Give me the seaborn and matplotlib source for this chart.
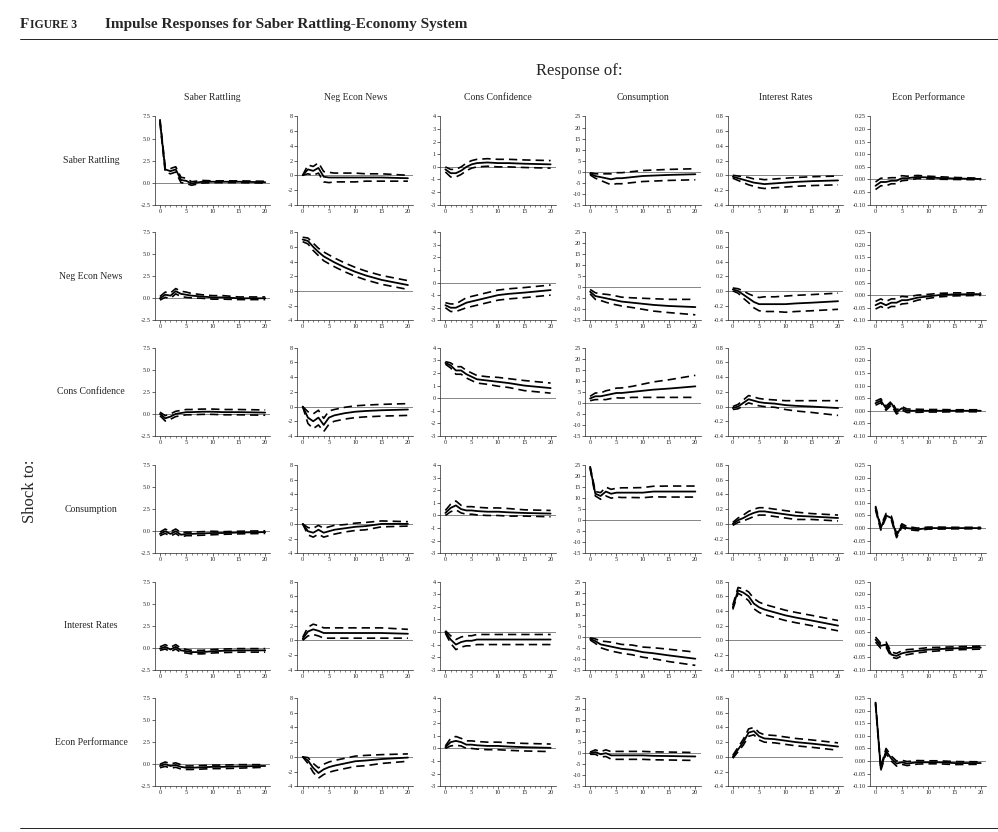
import numpy as np
import pandas as pd
import matplotlib
matplotlib.use("Agg")
import matplotlib.pyplot as plt
import seaborn as sns

sns.set_theme(style="ticks")
plt.rcParams['font.family'] = ['Liberation Serif', 'DejaVu Serif']

names = ["Saber Rattling", "Neg Econ News", "Cons Confidence",
         "Consumption", "Interest Rates", "Econ Performance"]
horizons = [0, 1, 2, 3, 4, 5, 6, 8, 10, 12, 15, 20]

# response centres (row = shock, col = response)
center = [
    [[7.0, 1.5, 1.3, 1.5, 0.3, 0.2, -0.1, 0.1, 0.1, 0.1, 0.1, 0.05],
     [0, 0.8, 0.6, 1.0, -0.2, -0.3, -0.3, -0.3, -0.3, -0.3, -0.3, -0.4],
     [-0.2, -0.5, -0.5, -0.3, 0, 0.2, 0.3, 0.35, 0.3, 0.3, 0.25, 0.2],
     [-1, -2, -2.5, -3, -3.5, -3, -3, -2.5, -2, -1.8, -1.5, -1.2],
     [-0.02, -0.04, -0.06, -0.08, -0.1, -0.11, -0.12, -0.11, -0.1, -0.09, -0.08, -0.07],
     [-0.025, -0.01, -0.01, -0.005, -0.005, 0.005, 0.005, 0.01, 0.008, 0.006, 0.004, 0.002]],
    [[0, 0.4, 0.3, 0.8, 0.5, 0.4, 0.3, 0.2, 0.1, 0.1, 0, 0],
     [7.0, 6.8, 6.0, 5.3, 4.7, 4.3, 3.9, 3.2, 2.6, 2.1, 1.5, 0.8],
     [-1.8, -2.0, -2.0, -1.8, -1.6, -1.5, -1.4, -1.2, -1.0, -0.9, -0.8, -0.6],
     [-2, -4, -4.5, -5, -5.5, -6, -6.5, -7, -7.5, -8, -8.5, -9],
     [0.02, 0, -0.05, -0.1, -0.15, -0.18, -0.18, -0.18, -0.18, -0.17, -0.16, -0.14],
     [-0.04, -0.03, -0.04, -0.03, -0.03, -0.02, -0.02, -0.01, -0.005, 0, 0.003, 0.004]],
    [[0, -0.5, -0.3, 0, 0.1, 0.2, 0.2, 0.25, 0.25, 0.2, 0.2, 0.15],
     [0, -1.5, -2.0, -1.5, -2.5, -1.5, -1.2, -0.9, -0.7, -0.6, -0.5, -0.4],
     [2.8, 2.6, 2.2, 2.2, 1.9, 1.7, 1.5, 1.4, 1.3, 1.2, 1.0, 0.8],
     [2, 3, 3, 3.5, 4, 4.5, 4.5, 5, 5.5, 6, 6.5, 7.5],
     [-0.02, 0, 0.05, 0.1, 0.08, 0.06, 0.05, 0.04, 0.02, 0.01, 0, -0.02],
     [0.03, 0.04, 0.01, 0.03, -0.005, 0.01, 0, 0, 0, 0, 0, 0]],
    [[-0.3, 0, -0.3, 0, -0.4, -0.3, -0.3, -0.25, -0.2, -0.2, -0.15, -0.1],
     [0, -1.0, -1.2, -0.8, -1.2, -1.0, -0.8, -0.6, -0.4, -0.3, 0, 0],
     [0.2, 0.6, 0.8, 0.5, 0.4, 0.4, 0.35, 0.3, 0.3, 0.25, 0.2, 0.15],
     [24, 12, 11, 13, 12, 12.5, 12.5, 12.5, 12.5, 13, 13, 13],
     [0, 0.05, 0.08, 0.12, 0.15, 0.17, 0.17, 0.15, 0.13, 0.11, 0.1, 0.08],
     [0.08, 0, 0.05, 0.04, -0.03, 0.01, 0, -0.005, 0, 0, 0, 0]],
    [[-0.1, 0.1, -0.2, 0.1, -0.3, -0.4, -0.5, -0.5, -0.4, -0.35, -0.3, -0.3],
     [0.2, 1.2, 1.5, 1.3, 1.0, 1.0, 1.0, 1.0, 1.0, 1.0, 1.0, 0.9],
     [0, -0.6, -1.0, -0.8, -0.7, -0.7, -0.6, -0.6, -0.6, -0.6, -0.6, -0.6],
     [-1, -2, -3.5, -4, -4.5, -5, -5.5, -6, -7, -7.5, -8.5, -10],
     [0.45, 0.68, 0.65, 0.6, 0.5, 0.45, 0.42, 0.38, 0.34, 0.31, 0.27, 0.2],
     [0.02, -0.005, 0, -0.04, -0.045, -0.035, -0.03, -0.025, -0.02, -0.018, -0.015, -0.012]],
    [[-0.2, 0, -0.2, -0.1, -0.3, -0.4, -0.4, -0.35, -0.3, -0.3, -0.25, -0.2],
     [0, -0.5, -1.5, -2.2, -1.7, -1.4, -1.2, -0.9, -0.6, -0.5, -0.3, -0.1],
     [0.1, 0.5, 0.6, 0.5, 0.3, 0.3, 0.25, 0.2, 0.2, 0.15, 0.1, 0.05],
     [0, 0.5, -0.5, 0, -1, -1, -1, -1, -1, -1.2, -1.3, -1.5],
     [0, 0.1, 0.2, 0.33, 0.35, 0.28, 0.25, 0.24, 0.22, 0.2, 0.18, 0.14],
     [0.23, -0.03, 0.04, 0.01, -0.01, -0.005, -0.01, -0.005, -0.005, -0.005, -0.008, -0.008]],
]

# half-width of the dashed confidence band
band = [
    [[0.2, 0.3, 0.3, 0.3, 0.3, 0.3, 0.2, 0.15, 0.1, 0.1, 0.1, 0.1],
     [0, 0.6, 0.6, 0.7, 0.7, 0.7, 0.6, 0.6, 0.6, 0.5, 0.5, 0.4],
     [0.2, 0.3, 0.3, 0.3, 0.3, 0.3, 0.3, 0.3, 0.3, 0.3, 0.3, 0.3],
     [0.5, 1, 1.5, 2, 2.5, 2.5, 2.5, 2.5, 2.5, 2.5, 2.5, 2.5],
     [0.02, 0.03, 0.04, 0.05, 0.05, 0.06, 0.06, 0.06, 0.06, 0.06, 0.06, 0.06],
     [0.015, 0.015, 0.015, 0.012, 0.012, 0.01, 0.008, 0.006, 0.005, 0.005, 0.004, 0.003]],
    [[0.2, 0.3, 0.3, 0.3, 0.3, 0.3, 0.25, 0.2, 0.2, 0.2, 0.15, 0.15],
     [0.3, 0.4, 0.5, 0.5, 0.6, 0.6, 0.6, 0.6, 0.6, 0.6, 0.6, 0.6],
     [0.2, 0.3, 0.3, 0.35, 0.4, 0.4, 0.4, 0.4, 0.4, 0.4, 0.4, 0.4],
     [1, 1.5, 1.5, 1.8, 2, 2, 2, 2.2, 2.5, 2.8, 3, 3.5],
     [0.02, 0.03, 0.05, 0.06, 0.08, 0.09, 0.1, 0.1, 0.11, 0.11, 0.11, 0.11],
     [0.015, 0.015, 0.015, 0.015, 0.015, 0.015, 0.013, 0.01, 0.008, 0.007, 0.006, 0.005]],
    [[0.2, 0.3, 0.3, 0.3, 0.3, 0.3, 0.3, 0.3, 0.3, 0.3, 0.3, 0.3],
     [0, 0.8, 1, 1, 0.9, 0.9, 0.8, 0.8, 0.8, 0.8, 0.8, 0.8],
     [0.1, 0.2, 0.3, 0.3, 0.3, 0.3, 0.3, 0.3, 0.35, 0.35, 0.4, 0.4],
     [1, 1.5, 1.5, 2, 2, 2.2, 2.3, 2.5, 3, 3.5, 4, 5],
     [0.02, 0.03, 0.04, 0.05, 0.05, 0.05, 0.05, 0.05, 0.06, 0.07, 0.08, 0.1],
     [0.008, 0.008, 0.008, 0.008, 0.008, 0.007, 0.007, 0.006, 0.005, 0.005, 0.004, 0.004]],
    [[0.2, 0.25, 0.25, 0.25, 0.25, 0.2, 0.2, 0.2, 0.2, 0.15, 0.15, 0.15],
     [0, 0.5, 0.6, 0.6, 0.6, 0.6, 0.6, 0.5, 0.5, 0.5, 0.4, 0.3],
     [0.2, 0.3, 0.35, 0.3, 0.3, 0.3, 0.3, 0.3, 0.3, 0.3, 0.25, 0.25],
     [0.5, 1, 1.5, 2, 2, 2, 2.2, 2.2, 2.3, 2.4, 2.5, 2.5],
     [0.02, 0.03, 0.04, 0.05, 0.05, 0.05, 0.05, 0.05, 0.05, 0.05, 0.04, 0.04],
     [0.008, 0.008, 0.008, 0.008, 0.008, 0.007, 0.006, 0.005, 0.004, 0.004, 0.003, 0.003]],
    [[0.2, 0.25, 0.25, 0.25, 0.25, 0.2, 0.2, 0.2, 0.2, 0.2, 0.2, 0.2],
     [0.2, 0.6, 0.7, 0.7, 0.7, 0.7, 0.7, 0.7, 0.7, 0.7, 0.7, 0.6],
     [0.1, 0.3, 0.4, 0.4, 0.4, 0.4, 0.4, 0.4, 0.4, 0.4, 0.4, 0.4],
     [0.5, 1, 1.5, 1.8, 2, 2, 2, 2.2, 2.3, 2.5, 2.8, 3],
     [0.03, 0.04, 0.05, 0.06, 0.07, 0.07, 0.07, 0.07, 0.07, 0.07, 0.07, 0.07],
     [0.01, 0.01, 0.01, 0.01, 0.01, 0.01, 0.01, 0.008, 0.008, 0.007, 0.006, 0.006]],
    [[0.2, 0.25, 0.25, 0.25, 0.25, 0.2, 0.2, 0.2, 0.2, 0.2, 0.2, 0.15],
     [0, 0.4, 0.6, 0.7, 0.7, 0.7, 0.7, 0.7, 0.7, 0.7, 0.6, 0.5],
     [0.1, 0.3, 0.35, 0.3, 0.3, 0.3, 0.3, 0.3, 0.3, 0.3, 0.3, 0.3],
     [0.5, 1, 1.2, 1.5, 1.7, 1.8, 1.8, 1.8, 1.8, 1.8, 1.8, 1.8],
     [0.02, 0.03, 0.04, 0.05, 0.05, 0.05, 0.05, 0.05, 0.05, 0.05, 0.05, 0.05],
     [0.005, 0.008, 0.01, 0.01, 0.01, 0.008, 0.008, 0.007, 0.006, 0.006, 0.006, 0.005]],
]

# y-axis setup per response column
ylims = [(-2.5, 7.5), (-4, 8), (-3, 4), (-15, 25), (-0.4, 0.8), (-0.10, 0.25)]
ysteps = [2.5, 2, 1, 5, 0.2, 0.05]
yfmts = ["{:.1f}", "{:.0f}", "{:.0f}", "{:.0f}", "{:.1f}", "{:.2f}"]

fig = plt.figure(figsize=(9.98, 8.32), dpi=100)
lefts = [0.155, 0.298, 0.441, 0.586, 0.729, 0.872]
bottoms = [0.754, 0.615, 0.476, 0.335, 0.195, 0.055]
w, h = 0.116, 0.106

for i in range(6):
    for j in range(6):
        ax = fig.add_axes([lefts[j], bottoms[i], w, h])
        c = np.array(center[i][j])
        b = np.array(band[i][j])
        df = pd.DataFrame({"h": horizons, "mid": c, "lo": c - b, "hi": c + b})
        ax.axhline(0, color="0.45", lw=0.6)
        sns.lineplot(data=df, x="h", y="mid", ax=ax, color="black", lw=1.3)
        sns.lineplot(data=df, x="h", y="lo", ax=ax, color="black", lw=1.2,
                     linestyle=(0, (5, 3)))
        sns.lineplot(data=df, x="h", y="hi", ax=ax, color="black", lw=1.2,
                     linestyle=(0, (5, 3)))
        lo, hi = ylims[j]
        ax.set_ylim(lo, hi)
        ax.set_xlim(-1, 21)
        yt = np.arange(lo, hi + 1e-9, ysteps[j])
        ax.set_yticks(yt)
        ax.set_yticklabels([yfmts[j].format(v) for v in yt])
        ax.set_xticks([0, 5, 10, 15, 20])
        ax.set_xticks(range(0, 21), minor=True)
        ax.tick_params(labelsize=4.5, length=2, width=0.5, pad=1)
        ax.tick_params(which="minor", length=1.2, width=0.4)
        ax.set_xlabel("")
        ax.set_ylabel("")
        for s in ax.spines.values():
            s.set_linewidth(0.5)
        sns.despine(ax=ax)
        if i == 0:
            ax.set_title(names[j], fontsize=7, pad=12)
        if j == 0:
            ax.text(-0.55, 0.5, names[i], transform=ax.transAxes, fontsize=7,
                    ha="center", va="center")

fig.text(0.02, 0.966, "F", fontsize=11, fontweight="bold", va="baseline")
fig.text(0.0305, 0.966, "IGURE 3", fontsize=8.5, fontweight="bold", va="baseline")
fig.text(0.105, 0.966, "Impulse Responses for Saber Rattling-Economy System",
         fontsize=11, fontweight="bold", va="baseline")
fig.add_artist(plt.Line2D([0.02, 1.0], [0.953, 0.953], color="black", lw=0.6))
fig.add_artist(plt.Line2D([0.02, 1.0], [0.005, 0.005], color="black", lw=0.6))
fig.text(0.58, 0.915, "Response of:", fontsize=12, ha="center", va="center")
fig.text(0.03, 0.41, "Shock to:", fontsize=12, rotation=90, ha="center", va="center")

fig.savefig("out.png", dpi=100)
